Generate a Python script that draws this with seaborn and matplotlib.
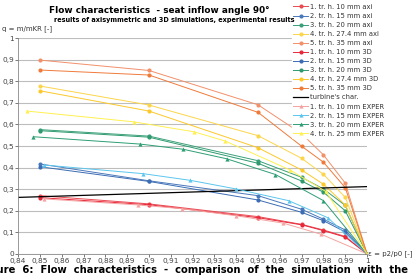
import pandas as pd
import seaborn as sns
import matplotlib.pyplot as plt
from matplotlib.ticker import FuncFormatter

# simulation pressure ratios
eps_sim = [0.85, 0.90, 0.95, 0.97, 0.98, 0.99, 1.0]

# axisymmetric results
q_axi = {
    "1. tr. h. 10 mm axi": [0.270, 0.232, 0.173, 0.137, 0.111, 0.081, 0.0],
    "2. tr. h. 15 mm axi": [0.417, 0.339, 0.270, 0.207, 0.161, 0.111, 0.0],
    "3. tr. h. 20 mm axi": [0.576, 0.546, 0.432, 0.355, 0.301, 0.225, 0.0],
    "4. tr. h. 27.4 mm axi": [0.778, 0.690, 0.548, 0.443, 0.369, 0.262, 0.0],
    "5. tr. h. 35 mm axi": [0.898, 0.850, 0.691, 0.557, 0.459, 0.328, 0.0],
}

# 3D results
q_3d = {
    "1. tr. h. 10 mm 3D": [0.261, 0.228, 0.168, 0.135, 0.108, 0.078, 0.0],
    "2. tr. h. 15 mm 3D": [0.404, 0.336, 0.250, 0.193, 0.154, 0.102, 0.0],
    "3. tr. h. 20 mm 3D": [0.571, 0.541, 0.420, 0.338, 0.286, 0.200, 0.0],
    "4. tr. h. 27.4 mm 3D": [0.756, 0.662, 0.492, 0.389, 0.323, 0.227, 0.0],
    "5. tr. h. 35 mm 3D": [0.852, 0.829, 0.656, 0.499, 0.425, 0.307, 0.0],
}

# turbine characteristic
eps_turb = [0.84, 1.0]
q_turb = [0.262, 0.312]

# experiments
exper = {
    "1. tr. h. 10 mm EXPER": ([0.852, 0.895, 0.915, 0.940, 0.9615, 0.979, 1.0],
                              [0.255, 0.227, 0.210, 0.177, 0.143, 0.091, 0.0]),
    "2. tr. h. 15 mm EXPER": ([0.852, 0.8973, 0.919, 0.940, 0.964, 0.982, 1.0],
                              [0.412, 0.372, 0.341, 0.301, 0.247, 0.168, 0.0]),
    "3. tr. h. 20 mm EXPER": ([0.847, 0.896, 0.9157, 0.9356, 0.958, 0.980, 1.0],
                              [0.543, 0.509, 0.485, 0.441, 0.368, 0.247, 0.0]),
    "4. tr. h. 25 mm EXPER": ([0.844, 0.893, 0.9206, 0.935, 0.9647, 0.981, 1.0],
                              [0.662, 0.612, 0.566, 0.523, 0.389, 0.290, 0.0]),
}

sim_colors = ["#e8283a", "#3b6cb4", "#2e9a6e", "#fcc82a", "#f07a3a"]
axi_colors = ["#ea4a52", "#4a78bc", "#3aa07a", "#fdd54a", "#f2906a"]
exp_colors = ["#f5a3a0", "#5cc6ee", "#2e9e74", "#fff050"]

fig = plt.figure(figsize=(4.2, 2.8), dpi=100)
ax = fig.add_axes([0.043, 0.093, 0.831, 0.771])

for (name, q), c in zip(q_axi.items(), axi_colors):
    sns.lineplot(x=eps_sim, y=q, ax=ax, color=c, marker="o", markersize=3,
                 markeredgewidth=0, linewidth=0.7, label=name)
for (name, q), c in zip(q_3d.items(), sim_colors):
    sns.lineplot(x=eps_sim, y=q, ax=ax, color=c, marker="o", markersize=3,
                 markeredgewidth=0, linewidth=0.7, label=name)
sns.lineplot(x=eps_turb, y=q_turb, ax=ax, color="black", linewidth=0.9,
             label="turbine's char.")
for (name, (e, q)), c in zip(exper.items(), exp_colors):
    sns.lineplot(x=e, y=q, ax=ax, color=c, marker="^", markersize=3,
                 markeredgewidth=0, linewidth=0.7, label=name)

ax.set_xlim(0.84, 1.0)
ax.set_ylim(0, 1)
ax.set_xticks([0.84 + 0.01 * i for i in range(17)])
ax.set_yticks([0.1 * i for i in range(11)])
fmt = FuncFormatter(lambda v, p: ("%.2f" % v).rstrip("0").rstrip(".").replace(".", ","))
ax.xaxis.set_major_formatter(fmt)
ax.yaxis.set_major_formatter(fmt)
ax.tick_params(labelsize=5.3, colors="#444444", length=2, width=0.5, pad=1)
ax.grid(axis="y", color="#bdbdbd", linewidth=0.8)
ax.set_axisbelow(True)
for s in ["top", "right"]:
    ax.spines[s].set_visible(False)
for s in ["left", "bottom"]:
    ax.spines[s].set_color("#888888")
    ax.spines[s].set_linewidth(0.6)
ax.set_xlabel("")
ax.set_ylabel("")

leg = ax.legend(loc="upper left", bbox_to_anchor=(0.785, 1.165), fontsize=4.9,
                frameon=True, facecolor="white", edgecolor="white", framealpha=1,
                handlelength=2.2, handletextpad=0.3, labelspacing=0.45,
                borderpad=0.2, borderaxespad=0)
for t in leg.get_texts():
    t.set_color("#333333")

fig.text(0.38, 0.962, "Flow characteristics  - seat inflow angle 90°",
         ha="center", va="center", fontsize=6.4, fontweight="bold")
fig.text(0.415, 0.93, "results of axisymmetric and 3D simulations, experimental results",
         ha="center", va="center", fontsize=4.7, fontweight="bold")
fig.text(0.005, 0.898, "q = m/mKR [-]", ha="left", va="center", fontsize=5, color="#333333")
fig.text(0.877, 0.093, "ε = p2/p0 [-]", ha="left", va="center", fontsize=5, color="#333333")
fig.text(-0.05, 0.035, "Figure  6:  Flow  characteristics  -  comparison  of  the  simulation  with  the",
         ha="left", va="center", fontsize=7.2, fontweight="bold")

fig.savefig("out.png", dpi=100)
